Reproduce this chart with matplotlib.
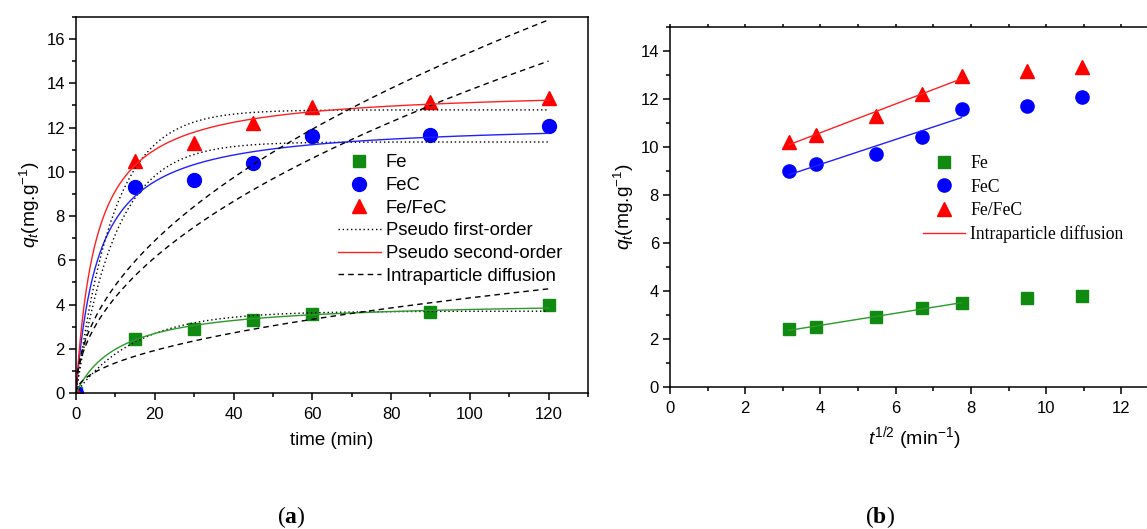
import numpy as np
import matplotlib
matplotlib.use('Agg')
import matplotlib.pyplot as plt
from matplotlib.ticker import MultipleLocator

plt.rcParams['font.family'] = ['Liberation Sans', 'DejaVu Sans']
plt.rcParams['mathtext.fontset'] = 'custom'
plt.rcParams['mathtext.rm'] = 'Liberation Sans'
plt.rcParams['mathtext.it'] = 'Liberation Sans:italic'
plt.rcParams['mathtext.bf'] = 'Liberation Serif:bold'

# dados (a): tempo em min
tempo = [0, 15, 30, 45, 60, 90, 120]
q_fe = [0, 2.45, 2.9, 3.3, 3.55, 3.65, 4.0]
q_fec = [0, 9.3, 9.65, 10.4, 11.6, 11.65, 12.05]
q_fefec = [0, 10.5, 11.3, 12.2, 12.95, 13.15, 13.35]

# parametros dos modelos (Fe, FeC, Fe/FeC)
pfo_qe = [3.7, 11.35, 12.8]
pfo_k = [0.065, 0.10, 0.105]
pso_qe = [4.2, 12.3, 13.8]
pso_k = [0.0212, 0.0142, 0.0142]
ipd_k = [0.43, 1.37, 1.54]
ipd_c = [0.0, 0.0, 0.0]

# dados (b): raiz do tempo
raiz_t = [3.16, 3.87, 5.48, 6.7, 7.75, 9.49, 10.95]
b_fe = [2.4, 2.5, 2.9, 3.3, 3.5, 3.7, 3.8]
b_fec = [9.0, 9.3, 9.7, 10.4, 11.6, 11.7, 12.1]
b_fefec = [10.2, 10.5, 11.3, 12.2, 12.95, 13.15, 13.35]
n_ajuste = 5  # pontos usados na reta

verde = '#118a11'
azul = '#0000ff'
vermelho = '#ff0000'
cores_linha = ['#2a9a2a', '#2020ff', '#ff2020']

W, H = 1147, 529
fig = plt.figure(figsize=(W / 100, H / 100), dpi=100)
ax1 = fig.add_axes([76 / W, (H - 393) / H, 512 / W, 376 / H])
ax2 = fig.add_axes([670 / W, (H - 387) / H, 489 / W, 360 / H])

# ---- painel (a)
ax1.plot(tempo, q_fe, 's', color=verde, ms=9, label='Fe')
ax1.plot(tempo, q_fec, 'o', color=azul, ms=10, label='FeC')
ax1.plot(tempo, q_fefec, '^', color=vermelho, ms=10, label='Fe/FeC')

t = np.linspace(0, 120, 600)
for i in range(3):
    pfo = pfo_qe[i] * (1 - np.exp(-pfo_k[i] * t))
    pso = pso_k[i] * pso_qe[i]**2 * t / (1 + pso_k[i] * pso_qe[i] * t)
    ipd = ipd_k[i] * np.sqrt(t) + ipd_c[i]
    ax1.plot(t, pfo, color='black', lw=1, ls=(0, (1, 2)),
             label='Pseudo first-order' if i == 0 else None)
    ax1.plot(t, pso, color=cores_linha[i], lw=1,
             label='Pseudo second-order' if i == 2 else None)
    ax1.plot(t, ipd, color='black', lw=1, ls=(0, (4, 3)),
             label='Intraparticle diffusion' if i == 0 else None)

h, l = ax1.get_legend_handles_labels()
ordem = ['Fe', 'FeC', 'Fe/FeC', 'Pseudo first-order', 'Pseudo second-order',
         'Intraparticle diffusion']
hh = [h[l.index(o)] for o in ordem]
ax1.legend(hh, ordem, loc='upper left', bbox_to_anchor=(0.512, 0.635),
           frameon=False, fontsize=13.3, borderpad=0, borderaxespad=0,
           handlelength=2.3, handletextpad=0.27, labelspacing=0.31, numpoints=1)

ax1.set_xlim(0, 130)
ax1.set_ylim(0, 17)
ax1.xaxis.set_major_locator(MultipleLocator(20))
ax1.xaxis.set_minor_locator(MultipleLocator(10))
ax1.yaxis.set_major_locator(MultipleLocator(2))
ax1.yaxis.set_minor_locator(MultipleLocator(1))
ax1.set_xlabel('time (min)', fontsize=13.5, labelpad=7)
ax1.set_ylabel(r'$q_t$(mg.g$^{-1}$)', fontsize=13.8, labelpad=3)

# ---- painel (b)
ax2.plot(raiz_t, b_fe, 's', color=verde, ms=9, label='Fe')
ax2.plot(raiz_t, b_fec, 'o', color=azul, ms=9.5, label='FeC')
ax2.plot(raiz_t, b_fefec, '^', color=vermelho, ms=9.5, label='Fe/FeC')
xs = np.array(raiz_t[:n_ajuste])
for i, yy in enumerate([b_fe, b_fec, b_fefec]):
    a, b = np.polyfit(xs, yy[:n_ajuste], 1)
    ax2.plot([xs[0], xs[-1]], [a * xs[0] + b, a * xs[-1] + b],
             color=cores_linha[i], lw=1,
             label='Intraparticle diffusion' if i == 2 else None)

ax2.legend(loc='upper left', bbox_to_anchor=(0.517, 0.644), frameon=False,
           prop={'family': 'Liberation Serif', 'size': 12.7}, borderpad=0,
           borderaxespad=0, handlelength=2.4, handletextpad=0.28,
           labelspacing=0.36, numpoints=1)

ax2.set_xlim(0, 13)
ax2.set_ylim(0, 15)
ax2.xaxis.set_major_locator(MultipleLocator(2))
ax2.xaxis.set_minor_locator(MultipleLocator(1))
ax2.yaxis.set_major_locator(MultipleLocator(2))
ax2.yaxis.set_minor_locator(MultipleLocator(1))
ax2.set_xlabel(r'$t^{1/2}$ (min$^{-1}$)', fontsize=14, labelpad=6)
ax2.set_ylabel(r'$q_t$(mg.g$^{-1}$)', fontsize=13.8, labelpad=3)

for ax in (ax1, ax2):
    for s in ax.spines.values():
        s.set_linewidth(1.1)
    ax.tick_params(which='major', direction='out', length=5, width=1.1,
                   labelsize=12)
    ax.tick_params(which='minor', direction='out', length=3, width=1.1)
    ax.tick_params(axis='x', pad=5)
    ax.tick_params(axis='y', pad=3)
ax2.xaxis.set_tick_params(which='both', top=True)
for tk in ax2.xaxis.get_major_ticks() + ax2.xaxis.get_minor_ticks():
    tk.tick2line.set_markersize(2)

fig.text(291 / W, 1 - 517 / H, r'($\mathbf{a}$)', ha='center', va='center',
         fontsize=17, family='Liberation Serif')
fig.text(880 / W, 1 - 517 / H, r'($\mathbf{b}$)', ha='center', va='center',
         fontsize=17, family='Liberation Serif')

fig.savefig('out.png', dpi=100)
